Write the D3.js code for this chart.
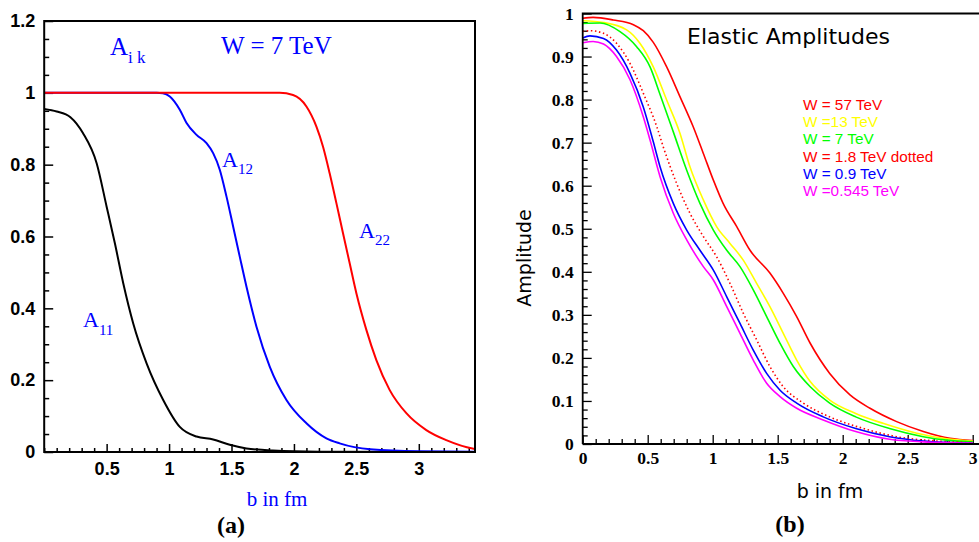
<!DOCTYPE html>
<html><head><meta charset="utf-8">
<script src="https://cdn.jsdelivr.net/npm/d3@7"></script>
<style>body{margin:0;background:#fff}svg{display:block}</style>
</head><body>
<svg id="c" width="979" height="542"></svg>
<script>
// ---------- Panel (a): A_ik at W = 7 TeV ----------
const a11 = [[0,0.955],[0.1,0.948],[0.21,0.932],[0.31,0.888],[0.42,0.804],[0.5,0.683],[0.566,0.581],[0.633,0.47],[0.713,0.358],[0.82,0.247],[0.953,0.145],[1.086,0.07],[1.22,0.043],[1.353,0.035],[1.486,0.02],[1.62,0.01],[1.83,0.004],[2.2,0.001],[3.45,0]];
const a12 = [[0,1],[0.9,1],[0.95,0.999],[1.006,0.99],[1.086,0.953],[1.14,0.916],[1.22,0.883],[1.3,0.86],[1.353,0.832],[1.406,0.786],[1.46,0.711],[1.513,0.628],[1.566,0.544],[1.62,0.46],[1.7,0.349],[1.806,0.238],[1.94,0.145],[2.1,0.08],[2.26,0.038],[2.366,0.024],[2.61,0.0075],[3.0,0.002],[3.45,0.001]];
const a22 = [[0,1],[1.886,1],[1.993,0.994],[2.1,0.962],[2.18,0.906],[2.233,0.85],[2.286,0.776],[2.34,0.693],[2.393,0.609],[2.446,0.526],[2.5,0.442],[2.58,0.34],[2.66,0.256],[2.766,0.173],[2.9,0.108],[3.06,0.061],[3.22,0.033],[3.43,0.01],[3.45,0.009]];
const leftXTicks = [0.5,1,1.5,2,2.5,3];
const leftXTickLabels = ["0.5","1","1.5","2","2.5","3"];
const leftYTicks = [0,0.2,0.4,0.6,0.8,1,1.2];
const leftYTickLabels = ["0","0.2","0.4","0.6","0.8","1","1.2"];

// ---------- Panel (b): Elastic amplitudes ----------
const w57 = [[0,0.989],[0.08,0.991],[0.235,0.985],[0.39,0.974],[0.466,0.96],[0.543,0.933],[0.646,0.876],[0.748,0.807],[0.85,0.737],[0.928,0.675],[1.005,0.613],[1.08,0.559],[1.185,0.505],[1.287,0.45],[1.44,0.397],[1.543,0.35],[1.646,0.296],[1.75,0.234],[1.9,0.164],[2.056,0.114],[2.21,0.083],[2.415,0.052],[2.62,0.029],[2.825,0.013],[3.0,0.008]];
const w13 = [[0,0.983],[0.16,0.979],[0.338,0.962],[0.44,0.931],[0.543,0.876],[0.646,0.799],[0.748,0.722],[0.825,0.644],[0.928,0.567],[1.03,0.505],[1.133,0.466],[1.235,0.427],[1.338,0.373],[1.44,0.319],[1.543,0.257],[1.646,0.195],[1.75,0.145],[1.9,0.102],[2.1,0.071],[2.31,0.048],[2.57,0.025],[2.8,0.012],[3.0,0.007]];
const w7 = [[0,0.977],[0.133,0.978],[0.287,0.958],[0.415,0.923],[0.518,0.876],[0.595,0.812],[0.697,0.725],[0.8,0.636],[0.902,0.559],[1.005,0.497],[1.108,0.45],[1.21,0.412],[1.312,0.358],[1.415,0.296],[1.518,0.234],[1.62,0.18],[1.75,0.133],[1.9,0.095],[2.1,0.063],[2.36,0.036],[2.62,0.017],[2.8,0.009],[3.0,0.005]];
const w18 = [[0,0.958],[0.056,0.96],[0.16,0.954],[0.26,0.931],[0.364,0.884],[0.466,0.815],[0.57,0.737],[0.62,0.69],[0.723,0.605],[0.825,0.536],[0.928,0.482],[1.03,0.435],[1.133,0.373],[1.235,0.304],[1.338,0.242],[1.44,0.18],[1.543,0.133],[1.697,0.095],[1.9,0.063],[2.16,0.036],[2.415,0.017],[2.72,0.007],[3.0,0.003]];
const w09 = [[0,0.943],[0.056,0.948],[0.16,0.942],[0.26,0.915],[0.364,0.861],[0.466,0.783],[0.543,0.702],[0.595,0.644],[0.697,0.559],[0.8,0.497],[0.902,0.45],[1.005,0.404],[1.108,0.342],[1.21,0.28],[1.312,0.218],[1.415,0.164],[1.518,0.125],[1.646,0.095],[1.85,0.063],[2.1,0.036],[2.36,0.017],[2.62,0.007],[3.0,0.002]];
const w0545 = [[0,0.932],[0.08,0.935],[0.16,0.929],[0.26,0.9],[0.364,0.846],[0.466,0.76],[0.518,0.706],[0.595,0.621],[0.697,0.536],[0.8,0.474],[0.928,0.412],[1.005,0.381],[1.108,0.319],[1.21,0.257],[1.312,0.195],[1.415,0.141],[1.518,0.11],[1.646,0.083],[1.85,0.056],[2.1,0.029],[2.36,0.011],[2.62,0.005],[3.0,0.002]];
const legendLabels = ["W = 57 TeV","W =13 TeV","W = 7 TeV","W = 1.8 TeV dotted","W = 0.9 TeV","W =0.545 TeV"];
const legendColors = ["#ff0000","#ffff00","#00ff00","#ff0000","#0000ff","#ff00ff"];
const rightXTicks = [0,0.5,1,1.5,2,2.5,3];
const rightXTickLabels = ["0","0.5","1","1.5","2","2.5","3"];
const rightYTicks = [0,0.1,0.2,0.3,0.4,0.5,0.6,0.7,0.8,0.9,1];
const rightYTickLabels = ["0","0.1","0.2","0.3","0.4","0.5","0.6","0.7","0.8","0.9","1"];

const svg = d3.select("#c");

// ===== Left panel =====
const xL = d3.scaleLinear().domain([0,3.45]).range([44.2,475]);
const yL = d3.scaleLinear().domain([0,1.2]).range([452,21]);
const gL = svg.append("g");

function minorVals(lo, hi, step, majors){
  const out=[]; const n=Math.round((hi-lo)/step);
  for(let i=0;i<=n;i++){const v=+(lo+i*step).toFixed(4); if(!majors.some(m=>Math.abs(m-v)<1e-6)) out.push(v);}
  return out;
}

gL.append("g").attr("transform",`translate(${xL(0)},0)`)
  .call(d3.axisLeft(yL).tickValues(minorVals(0,1.2,0.05,leftYTicks)).tickSize(-5).tickFormat(""))
  .call(g=>g.select(".domain").remove()).selectAll("line").attr("stroke","#000").attr("stroke-width",1.5);
gL.append("g").attr("transform",`translate(0,${yL(0)})`)
  .call(d3.axisBottom(xL).tickValues(minorVals(0,3.4,0.1,leftXTicks)).tickSize(-4).tickFormat(""))
  .call(g=>g.select(".domain").remove()).selectAll("line").attr("stroke","#000").attr("stroke-width",1.5);
const yAxL = gL.append("g").attr("transform",`translate(${xL(0)},0)`)
  .call(d3.axisLeft(yL).tickValues(leftYTicks).tickSize(-9).tickPadding(9).tickFormat((d,i)=>leftYTickLabels[i]));
yAxL.select(".domain").remove();
yAxL.selectAll("line").attr("stroke","#000").attr("stroke-width",1.5);
yAxL.selectAll("text").style("font-family","'Liberation Sans', Arial, sans-serif").style("font-weight","bold").style("font-size","18px").attr("fill","#000");
const xAxL = gL.append("g").attr("transform",`translate(0,${yL(0)})`)
  .call(d3.axisBottom(xL).tickValues(leftXTicks).tickSize(-8).tickPadding(10).tickFormat((d,i)=>leftXTickLabels[i]));
xAxL.select(".domain").remove();
xAxL.selectAll("line").attr("stroke","#000").attr("stroke-width",1.5);
xAxL.selectAll("text").style("font-family","'Liberation Sans', Arial, sans-serif").style("font-weight","bold").style("font-size","18px").attr("fill","#000");

const lineL = d3.line().x(d=>xL(d[0])).y(d=>yL(d[1])).curve(d3.curveMonotoneX);
gL.append("path").datum(a11).attr("d",lineL).attr("fill","none").attr("stroke","#000").attr("stroke-width",2);
gL.append("path").datum(a12).attr("d",lineL).attr("fill","none").attr("stroke","#0000ff").attr("stroke-width",2);
gL.append("path").datum(a22).attr("d",lineL).attr("fill","none").attr("stroke","#ff0000").attr("stroke-width",2);

gL.append("rect").attr("x",xL(0)).attr("y",yL(1.2)).attr("width",xL(3.45)-xL(0)).attr("height",yL(0)-yL(1.2))
  .attr("fill","none").attr("stroke","#000").attr("stroke-width",2);

const tf = "'Liberation Serif', 'Times New Roman', serif";
function subLabel(g,x,y,main,sub,fs,sfs,dy){
  const t=g.append("text").attr("x",x).attr("y",y).style("font-family",tf).style("font-size",fs+"px").attr("fill","#0000ff");
  t.append("tspan").text(main);
  t.append("tspan").style("font-size",sfs+"px").attr("dy",dy).text(sub);
}
subLabel(gL,110,55,"A","i k",25,17,8);
gL.append("text").attr("x",221).attr("y",54).style("font-family",tf).style("font-size","25px").attr("fill","#0000ff").text("W = 7 TeV");
subLabel(gL,222,167,"A","12",22,15,7);
subLabel(gL,83,327,"A","11",22,15,8);
subLabel(gL,359,238,"A","22",22,15,7);
gL.append("text").attr("x",277).attr("y",506).attr("text-anchor","middle").style("font-family",tf).style("font-size","21px").attr("fill","#0000ff").text("b in fm");
gL.append("text").attr("x",231).attr("y",533).attr("text-anchor","middle").style("font-family",tf).style("font-weight","bold").style("font-size","24px").attr("fill","#000").text("(a)");

// ===== Right panel =====
const xR = d3.scaleLinear().domain([0,3]).range([582.7,972.7]);
const yR = d3.scaleLinear().domain([0,1]).range([444,13.5]);
const gR = svg.append("g");

gR.append("g").attr("transform",`translate(${xR(0)},0)`)
  .call(d3.axisLeft(yR).tickValues(minorVals(0,1,0.02,rightYTicks)).tickSize(-5).tickFormat(""))
  .call(g=>g.select(".domain").remove()).selectAll("line").attr("stroke","#000").attr("stroke-width",1.3);
gR.append("g").attr("transform",`translate(0,${yR(0)})`)
  .call(d3.axisBottom(xR).tickValues(minorVals(0,3,0.1,rightXTicks)).tickSize(-5).tickFormat(""))
  .call(g=>g.select(".domain").remove()).selectAll("line").attr("stroke","#000").attr("stroke-width",1.3);
const yAxR = gR.append("g").attr("transform",`translate(${xR(0)},0)`)
  .call(d3.axisLeft(yR).tickValues(rightYTicks).tickSize(-9).tickPadding(9).tickFormat((d,i)=>rightYTickLabels[i]));
yAxR.select(".domain").remove();
yAxR.selectAll("line").attr("stroke","#000").attr("stroke-width",1.3);
yAxR.selectAll("text").style("font-family",tf).style("font-weight","bold").style("font-size","17.5px").attr("fill","#000");
const xAxR = gR.append("g").attr("transform",`translate(0,${yR(0)})`)
  .call(d3.axisBottom(xR).tickValues(rightXTicks).tickSize(-9).tickPadding(8).tickFormat((d,i)=>rightXTickLabels[i]));
xAxR.select(".domain").remove();
xAxR.selectAll("line").attr("stroke","#000").attr("stroke-width",1.3);
xAxR.selectAll("text").style("font-family",tf).style("font-weight","bold").style("font-size","17.5px").attr("fill","#000");

const lineR = d3.line().x(d=>xR(d[0])).y(d=>yR(d[1])).curve(d3.curveMonotoneX);
const seriesR = [w57,w13,w7,w18,w09,w0545];
seriesR.forEach((s,i)=>{
  gR.append("path").datum(s).attr("d",lineR).attr("fill","none").attr("stroke",legendColors[i])
    .attr("stroke-width",1.6).attr("stroke-dasharray", i===3 ? "1.5,2.6" : null);
});

gR.append("path").attr("d",`M${xR(0)},${yR(0)}V${yR(1)}H979M${xR(0)},${yR(0)}H979`)
  .attr("fill","none").attr("stroke","#000").attr("stroke-width",1.8);

const sf = "'DejaVu Sans', Verdana, sans-serif";
gR.append("text").attr("x",687).attr("y",44).style("font-family",sf).style("font-size","22px").attr("fill","#000").text("Elastic Amplitudes");
gR.append("text").attr("transform","translate(531,258) rotate(-90)").attr("text-anchor","middle").style("font-family",sf).style("font-size","19px").attr("fill","#000").text("Amplitude");
gR.append("text").attr("x",830).attr("y",498).attr("text-anchor","middle").style("font-family",sf).style("font-size","19px").attr("fill","#000").text("b in fm");
gR.append("text").attr("x",790).attr("y",532).attr("text-anchor","middle").style("font-family",tf).style("font-weight","bold").style("font-size","24px").attr("fill","#000").text("(b)");

gR.selectAll("text.leg").data(legendLabels).enter().append("text").attr("class","leg")
  .attr("x",803).attr("y",(d,i)=>110+i*17.2).style("font-family","'Liberation Sans', Arial, sans-serif").style("font-size","15.3px")
  .attr("fill",(d,i)=>legendColors[i]).text(d=>d);
</script>
</body></html>
